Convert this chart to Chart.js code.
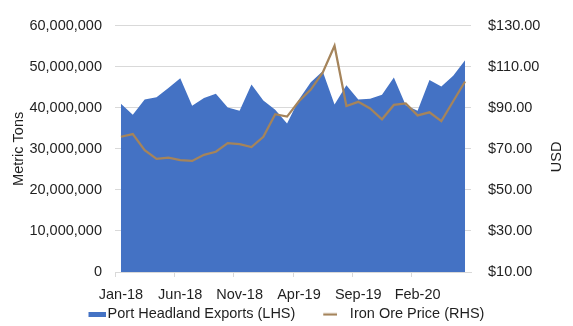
<!DOCTYPE html>
<html>
<head>
<meta charset="utf-8">
<script src="https://cdn.jsdelivr.net/npm/chart.js@4.4.1/dist/chart.umd.min.js"></script>
<style>
  html, body { margin: 0; padding: 0; background: #ffffff; }
  #wrap { position: relative; width: 573px; height: 326px; }
</style>
</head>
<body>
<div id="wrap"><canvas id="mainChart"></canvas></div>
<script>
// --- DATA ---
const months = [
    'Jan-18', 'Feb-18', 'Mar-18', 'Apr-18', 'May-18', 'Jun-18', 'Jul-18', 'Aug-18', 'Sep-18', 'Oct-18',
    'Nov-18', 'Dec-18', 'Jan-19', 'Feb-19', 'Mar-19', 'Apr-19', 'May-19', 'Jun-19', 'Jul-19', 'Aug-19',
    'Sep-19', 'Oct-19', 'Nov-19', 'Dec-19', 'Jan-20', 'Feb-20', 'Mar-20', 'Apr-20', 'May-20', 'Jun-20'
];
// Port Headland exports, metric tons per month
const exportsTons = [
    41000000, 38300000, 42000000, 42600000, 44800000, 47200000, 40500000, 42400000, 43400000, 40100000,
    39300000, 45700000, 41800000, 39500000, 36200000, 42000000, 46200000, 48900000, 40800000, 45500000,
    42000000, 42200000, 43200000, 47400000, 40600000, 39300000, 46800000, 45200000, 47800000, 51600000
];
// Iron ore price, USD per ton
const orePrice = [
    75.9, 77.2, 69.4, 65.1, 65.7, 64.5, 64.1, 67.1, 68.6, 72.8,
    72.3, 70.9, 75.9, 86.9, 85.7, 93.2, 98.9, 107.1, 120.2, 90.9,
    92.9, 89.7, 84.4, 91.4, 92.1, 86.3, 87.8, 83.5, 93.2, 102.8
];
const leftTicks = { min: 0, max: 60000000, step: 10000000 };
const rightTicks = { min: 10, max: 130, step: 20 };
const labelEvery = 5;

// --- STYLE ---
const FONT = { family: '"Liberation Sans", Arial, sans-serif', size: 14.5 };
const TEXT = '#1f1f1f';
const GRID = '#d9d9d9';
const BLUE = '#4472c4';
const BROWN = '#a5845b';

// legend keys: small canvases so the swatch can sit right next to its text
function legendKey(width, height, draw) {
    const c = document.createElement('canvas');
    c.width = width;
    c.height = height;
    draw(c.getContext('2d'));
    return c;
}
const areaKey = legendKey(56, 5, (g) => { g.fillStyle = BLUE; g.fillRect(38, 0, 18, 5); });
const lineKey = legendKey(33, 4, (g) => {
    g.strokeStyle = BROWN;
    g.lineWidth = 2.25;
    g.beginPath();
    g.moveTo(19, 2);
    g.lineTo(33, 2);
    g.stroke();
});

// right-hand axis title, Excel style (reads bottom to top)
const rightTitle = {
    id: 'rightTitle',
    afterDraw(chart) {
        const s = chart.scales.y1;
        const ctx = chart.ctx;
        ctx.save();
        ctx.translate(chart.width - 16.5, (s.top + s.bottom) / 2 + 8);
        ctx.rotate(-Math.PI / 2);
        ctx.font = `${FONT.size}px ${FONT.family}`;
        ctx.fillStyle = TEXT;
        ctx.textAlign = 'center';
        ctx.textBaseline = 'middle';
        ctx.fillText('USD', 0, 0);
        ctx.restore();
    }
};

const ctx = document.getElementById('mainChart').getContext('2d');
new Chart(ctx, {
    type: 'line',
    data: {
        labels: months,
        datasets: [
            {
                label: 'Port Headland Exports (LHS)',
                data: exportsTons,
                yAxisID: 'y',
                order: 2,
                fill: 'origin',
                backgroundColor: BLUE,
                borderColor: BLUE,
                borderWidth: 0,
                pointRadius: 0,
                tension: 0
            },
            {
                label: 'Iron Ore Price (RHS)',
                data: orePrice,
                yAxisID: 'y1',
                order: 1,
                fill: false,
                borderColor: BROWN,
                backgroundColor: BROWN,
                borderWidth: 2.25,
                pointRadius: 0,
                tension: 0
            }
        ]
    },
    options: {
        responsive: true,
        maintainAspectRatio: false,
        animation: false,
        layout: { padding: { top: 12, left: 0, right: 32, bottom: -5.7 } },
        plugins: {
            tooltip: { enabled: false },
            legend: {
                position: 'bottom',
                labels: {
                    usePointStyle: true,
                    pointStyleWidth: 43.75,
                    boxHeight: 5,
                    padding: 3.5,
                    color: TEXT,
                    font: FONT,
                    generateLabels: (chart) => {
                        const items = Chart.defaults.plugins.legend.labels.generateLabels(chart);
                        items.sort((a, b) => a.datasetIndex - b.datasetIndex);
                        items.forEach((it) => { it.pointStyle = it.datasetIndex === 0 ? areaKey : lineKey; });
                        return items;
                    }
                }
            }
        },
        scales: {
            x: {
                offset: true,
                grid: {
                    offset: true,
                    drawOnChartArea: false,
                    tickLength: 5,
                    tickColor: (c) => (c.index % labelEvery === 0 ? GRID : 'rgba(0,0,0,0)')
                },
                border: { display: true, color: GRID, width: 1 },
                ticks: {
                    autoSkip: false,
                    maxRotation: 0,
                    padding: 9.3,
                    color: TEXT,
                    font: FONT,
                    callback: (v, i) => (i % labelEvery === 0 ? months[i] : '')
                },
                afterFit: (s) => { s.height = 31.7; }
            },
            y: {
                position: 'left',
                min: leftTicks.min,
                max: leftTicks.max,
                grid: { color: GRID, drawTicks: false },
                border: { display: false },
                ticks: {
                    stepSize: leftTicks.step,
                    padding: 13,
                    color: TEXT,
                    font: FONT,
                    callback: (v) => v.toLocaleString('en-US')
                },
                title: {
                    display: true,
                    text: 'Metric Tons',
                    color: TEXT,
                    font: FONT,
                    padding: { top: 9.8, bottom: 0 }
                },
                afterFit: (s) => { s.width = 115; }
            },
            y1: {
                position: 'right',
                min: rightTicks.min,
                max: rightTicks.max,
                grid: { display: false, drawTicks: false },
                border: { display: false },
                ticks: {
                    stepSize: rightTicks.step,
                    padding: 17,
                    color: TEXT,
                    font: FONT,
                    callback: (v) => '$' + v.toFixed(2)
                },
                afterFit: (s) => { s.width = 70; }
            }
        }
    },
    plugins: [rightTitle]
});
</script>
</body>
</html>
